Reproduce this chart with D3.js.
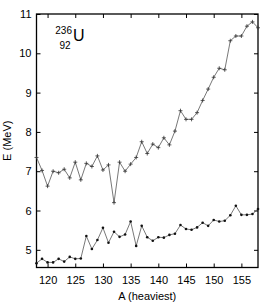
<!DOCTYPE html>
<html>
<head>
<meta charset="utf-8">
<script src="https://cdn.jsdelivr.net/npm/d3@7"></script>
<style>
  body { margin: 0; background: #fff; }
  text { font-family: "Liberation Sans", Arial, sans-serif; }
</style>
</head>
<body>
<script>
// mass number of heavier fragment
var massA = d3.range(118, 159);

// upper curve (crosses)
var upperE = [7.35, 7.02, 6.62, 7.0, 6.96, 7.05, 6.83, 7.23, 6.78, 7.2,
  7.12, 7.39, 7.03, 7.16, 6.2, 7.23, 7.0, 7.18, 7.35, 7.75,
  7.45, 7.69, 7.6, 7.85, 7.67, 8.02, 8.54, 8.32, 8.32, 8.49,
  8.8, 9.09, 9.39, 9.62, 9.58, 10.32, 10.44, 10.44, 10.69, 10.8, 10.65];

// lower curve (dots)
var lowerE = [4.66, 4.77, 4.68, 4.68, 4.77, 4.7, 4.82, 4.77, 4.78, 5.35,
  5.02, 5.25, 5.56, 5.18, 5.46, 5.33, 5.39, 5.72, 5.1, 5.61,
  5.32, 5.23, 5.32, 5.31, 5.38, 5.41, 5.63, 5.53, 5.51, 5.57,
  5.69, 5.61, 5.76, 5.72, 5.74, 5.88, 6.12, 5.89, 5.89, 5.91, 6.04];

var xTicks = [120, 125, 130, 135, 140, 145, 150, 155];
var yTicks = [5, 6, 7, 8, 9, 10, 11];

var width = 267, height = 305;
var m = {left: 36.5, right: 9, top: 14, bottom: 37.5};

var svg = d3.select("body").append("svg")
  .attr("width", width).attr("height", height);

var x = d3.scaleLinear().domain([118, 158]).range([m.left, width - m.right]);
var y = d3.scaleLinear().domain([4.55, 11]).range([height - m.bottom, m.top]);

var tk = 4;

// ticks inside on every side
svg.append("g").attr("transform", "translate(0," + (height - m.bottom) + ")")
  .call(d3.axisBottom(x).tickValues(xTicks).tickSizeInner(-tk).tickSizeOuter(0).tickPadding(9))
  .call(g => g.select(".domain").remove());
svg.append("g").attr("transform", "translate(0," + m.top + ")")
  .call(d3.axisTop(x).tickValues(xTicks).tickSizeInner(-tk).tickSizeOuter(0).tickFormat(""))
  .call(g => g.select(".domain").remove());
svg.append("g").attr("transform", "translate(" + m.left + ",0)")
  .call(d3.axisLeft(y).tickValues(yTicks).tickFormat(d3.format("d")).tickSizeInner(-tk).tickSizeOuter(0).tickPadding(5))
  .call(g => g.select(".domain").remove());
svg.append("g").attr("transform", "translate(" + (width - m.right) + ",0)")
  .call(d3.axisRight(y).tickValues(yTicks).tickSizeInner(-tk).tickSizeOuter(0).tickFormat(""))
  .call(g => g.select(".domain").remove());

svg.selectAll(".tick text").attr("font-size", 11).attr("fill", "#000")
  .attr("font-family", "'Liberation Sans', Arial, sans-serif");
svg.selectAll(".tick line").attr("stroke", "#000").attr("stroke-width", 1);

// frame
svg.append("rect")
  .attr("x", m.left).attr("y", m.top)
  .attr("width", width - m.left - m.right)
  .attr("height", height - m.top - m.bottom)
  .attr("fill", "none").attr("stroke", "#000").attr("stroke-width", 1.3);

var line = d3.line().x((d, i) => x(massA[i])).y(d => y(d));

var plot = svg.append("g");

plot.append("path").datum(upperE)
  .attr("d", line).attr("fill", "none").attr("stroke", "#555").attr("stroke-width", 0.8);
plot.append("path").datum(lowerE)
  .attr("d", line).attr("fill", "none").attr("stroke", "#555").attr("stroke-width", 0.8);

// crosses
plot.selectAll(".cross").data(upperE).enter().append("path")
  .attr("class", "cross")
  .attr("d", (d, i) => {
    var cx = x(massA[i]), cy = y(d), s = 2;
    return "M" + (cx - s) + "," + cy + "H" + (cx + s) + "M" + cx + "," + (cy - s) + "V" + (cy + s);
  })
  .attr("stroke", "#333").attr("stroke-width", 0.8);

// dots
plot.selectAll(".dot").data(lowerE).enter().append("circle")
  .attr("cx", (d, i) => x(massA[i])).attr("cy", d => y(d))
  .attr("r", 1.3).attr("fill", "#111");

// labels
svg.append("text")
  .attr("x", (m.left + width - m.right) / 2).attr("y", 300)
  .attr("text-anchor", "middle").attr("font-size", 11)
  .text("A (heaviest)");

svg.append("text")
  .attr("transform", "translate(11," + ((m.top + height - m.bottom) / 2) + ") rotate(-90)")
  .attr("text-anchor", "middle").attr("font-size", 11)
  .text("E (MeV)");

// nucleus annotation
var ann = svg.append("g");
ann.append("text").attr("x", 72).attr("y", 33.5)
  .attr("text-anchor", "end").attr("font-size", 10).text("236");
ann.append("text").attr("x", 70.5).attr("y", 49)
  .attr("text-anchor", "end").attr("font-size", 10).text("92");
ann.append("text").attr("x", 73).attr("y", 41)
  .attr("font-size", 16).text("U");
</script>
</body>
</html>
